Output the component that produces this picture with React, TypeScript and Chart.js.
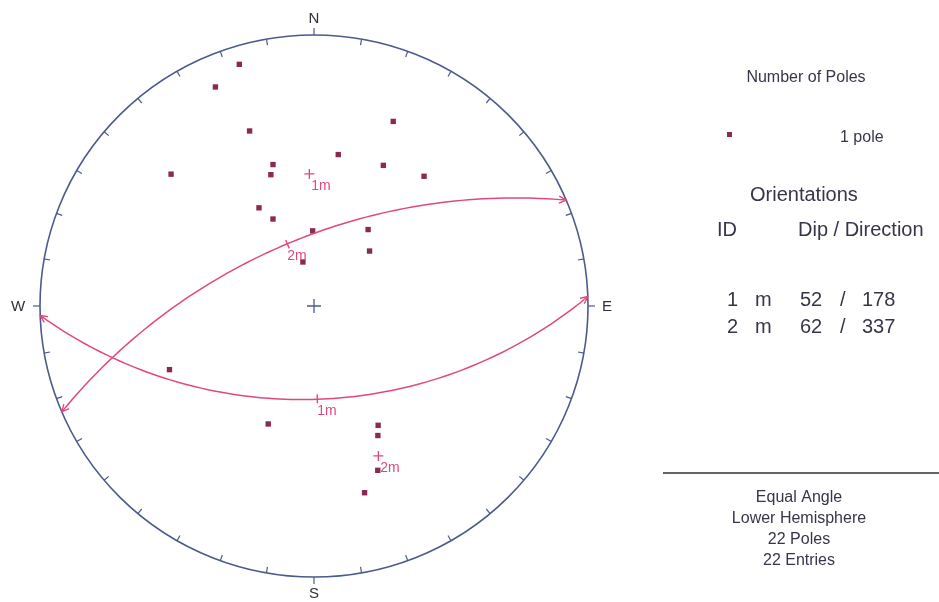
import React, { useEffect, useRef } from "react";
import { Chart, registerables } from "chart.js";
Chart.register(...registerables);

// ---- Data ----
// Poles: trend (deg) / plunge (deg), lower hemisphere
const poleTrends = [343, 336, 340, 313, 344, 342, 9, 26, 23, 40, 331, 335, 359, 35, 45, 346, 246, 201, 152, 154, 159, 165];
const polePlunges = [4, 7, 21, 19, 33, 36, 31, 30, 17, 26, 45, 51, 59, 52, 58, 71, 30, 40, 37, 34, 24, 19];

// Mean set planes: dip / dip direction
const setIds = ["1", "2"];
const setTypes = ["m", "m"];
const setLabels = ["1m", "2m"];
const setDips = [52, 62];
const setDipDirections = [178, 337];

const cardinalLabels = ["N", "E", "S", "W"];
const tickStep = 10;
const footerLines = ["Equal Angle", "Lower Hemisphere", "22 Poles", "22 Entries"];

// ---- Styles ----
const NET_COLOR = "#4c5a8c";
const PLANE_COLOR = "#e0497c";
const POLE_COLOR = "#8a2a52";
const TEXT_COLOR = "#39344a";
const FONT = "'Liberation Sans', Arial, sans-serif";

const W = 939;
const H = 602;
const CX = 314;
const CY = 306;
const RX = 274;
const RY = 271;

const rad = Math.PI / 180;

function project(trend: number, plunge: number) {
  const r = Math.tan(((90 - plunge) / 2) * rad);
  return { x: r * Math.sin(trend * rad), y: r * Math.cos(trend * rad) };
}

function greatCircle(dip: number, dipDir: number) {
  const s = (dipDir - 90) * rad;
  const a = dipDir * rad;
  const d = dip * rad;
  const pts: { x: number; y: number }[] = [];
  for (let k = 0; k <= 90; k++) {
    const t = k * 2 * rad;
    const vn = Math.cos(t) * Math.cos(s) + Math.sin(t) * Math.cos(d) * Math.cos(a);
    const ve = Math.cos(t) * Math.sin(s) + Math.sin(t) * Math.cos(d) * Math.sin(a);
    const vz = Math.sin(t) * Math.sin(d);
    const plunge = Math.asin(Math.max(-1, Math.min(1, vz))) / rad;
    const trend = Math.atan2(ve, vn) / rad;
    pts.push(project(trend, plunge));
  }
  return pts;
}

const polePoints = poleTrends.map((t, i) => project(t, polePlunges[i]));
const setPolePoints = setDips.map((d, i) => project(setDipDirections[i] + 180, 90 - d));
const setDipPoints = setDips.map((d, i) => project(setDipDirections[i], d));

const stereoPlugin = {
  id: "stereonet",
  beforeDatasetsDraw(chart: any) {
    const { ctx, scales } = chart;
    const xs = scales.x;
    const ys = scales.y;
    const cx = xs.getPixelForValue(0);
    const cy = ys.getPixelForValue(0);
    const rx = xs.getPixelForValue(1) - cx;
    const ry = cy - ys.getPixelForValue(1);
    ctx.save();
    ctx.strokeStyle = NET_COLOR;
    ctx.lineWidth = 1.6;
    ctx.beginPath();
    ctx.ellipse(cx, cy, rx, ry, 0, 0, Math.PI * 2);
    ctx.stroke();
    ctx.lineWidth = 1.2;
    for (let a = 0; a < 360; a += tickStep) {
      const s = Math.sin(a * rad);
      const c = Math.cos(a * rad);
      const card = a % 90 === 0;
      const d0 = card ? 0 : -6;
      const d1 = card ? 7 : 0;
      ctx.beginPath();
      ctx.moveTo(cx + s * (rx + d0), cy - c * (ry + d0));
      ctx.lineTo(cx + s * (rx + d1), cy - c * (ry + d1));
      ctx.stroke();
    }
    // cardinal labels
    ctx.fillStyle = "#2f2f3a";
    ctx.font = `15px ${FONT}`;
    ctx.textAlign = "center";
    ctx.textBaseline = "middle";
    const offs = [17, 19, 16, 22];
    cardinalLabels.forEach((lab, i) => {
      const a = i * 90 * rad;
      const s = Math.sin(a);
      const c = Math.cos(a);
      ctx.fillText(lab, cx + s * (rx + offs[i]), cy - c * (ry + offs[i]) + 1);
    });
    ctx.restore();
  },
  afterDatasetsDraw(chart: any) {
    const { ctx, scales } = chart;
    const xs = scales.x;
    const ys = scales.y;
    const cx = xs.getPixelForValue(0);
    const cy = ys.getPixelForValue(0);
    ctx.save();
    // arrowheads on great circles
    ctx.strokeStyle = PLANE_COLOR;
    ctx.lineWidth = 1.4;
    for (let i = 0; i < setDips.length; i++) {
      const pts = chart.getDatasetMeta(i).data;
      const ends = [
        [pts[pts.length - 1], pts[pts.length - 4]],
        [pts[0], pts[3]],
      ];
      ends.forEach(([p, q]: any) => {
        const ang = Math.atan2(p.y - q.y, p.x - q.x);
        ctx.beginPath();
        ctx.moveTo(p.x - 8 * Math.cos(ang - 0.45), p.y - 8 * Math.sin(ang - 0.45));
        ctx.lineTo(p.x, p.y);
        ctx.lineTo(p.x - 8 * Math.cos(ang + 0.45), p.y - 8 * Math.sin(ang + 0.45));
        ctx.stroke();
      });
    }
    // dip-direction ticks and labels
    ctx.fillStyle = PLANE_COLOR;
    ctx.font = `14px ${FONT}`;
    ctx.textAlign = "left";
    ctx.textBaseline = "middle";
    setDipPoints.forEach((pt, i) => {
      const px = xs.getPixelForValue(pt.x);
      const py = ys.getPixelForValue(pt.y);
      let ux = cx - px;
      let uy = cy - py;
      const n = Math.hypot(ux, uy) || 1;
      ux /= n;
      uy /= n;
      ctx.beginPath();
      ctx.moveTo(px - 4 * ux, py - 4 * uy);
      ctx.lineTo(px + 5 * ux, py + 5 * uy);
      ctx.stroke();
      ctx.fillText(setLabels[i], px + 0, py + 12);
    });
    setPolePoints.forEach((pt, i) => {
      const px = xs.getPixelForValue(pt.x);
      const py = ys.getPixelForValue(pt.y);
      ctx.fillText(setLabels[i], px + 2, py + 12);
    });

    // right panel
    ctx.fillStyle = TEXT_COLOR;
    ctx.textAlign = "center";
    ctx.font = `16px ${FONT}`;
    ctx.fillText("Number of Poles", 806, 78, 124);
    ctx.fillStyle = POLE_COLOR;
    ctx.fillRect(727, 132, 5, 5);
    ctx.fillStyle = TEXT_COLOR;
    ctx.textAlign = "left";
    ctx.fillText("1 pole", 840, 138);
    ctx.font = `20px ${FONT}`;
    ctx.fillText("Orientations", 750, 195);
    ctx.fillText("ID", 717, 230);
    ctx.fillText("Dip / Direction", 798, 230);
    const rowY = [300, 327];
    setIds.forEach((id, i) => {
      const y = rowY[i];
      ctx.textAlign = "left";
      ctx.fillText(id, 727, y);
      ctx.fillText(setTypes[i], 755, y);
      ctx.fillText(String(setDips[i]), 800, y);
      ctx.fillText("/", 840, y);
      ctx.fillText(String(setDipDirections[i]).padStart(3, "0"), 862, y);
    });
    ctx.strokeStyle = "#2f2f38";
    ctx.lineWidth = 1.6;
    ctx.beginPath();
    ctx.moveTo(663, 473);
    ctx.lineTo(939, 473);
    ctx.stroke();
    ctx.textAlign = "center";
    ctx.font = `16px ${FONT}`;
    const fy = [498, 519, 540, 561];
    footerLines.forEach((t, i) => ctx.fillText(t, 799, fy[i]));
    ctx.restore();
  },
};

export default function App() {
  const ref = useRef<HTMLCanvasElement | null>(null);
  useEffect(() => {
    if (!ref.current) return;
    const datasets: any[] = setDips.map((d, i) => ({
      label: `Plane ${setLabels[i]}`,
      data: greatCircle(d, setDipDirections[i]),
      showLine: true,
      borderColor: PLANE_COLOR,
      borderWidth: 1.5,
      pointRadius: 0,
      tension: 0,
      fill: false,
    }));
    datasets.push({
      label: "Poles",
      data: polePoints,
      pointStyle: "rect",
      pointRadius: 3.8,
      backgroundColor: POLE_COLOR,
      borderColor: POLE_COLOR,
      borderWidth: 0,
      showLine: false,
    });
    datasets.push({
      label: "Set poles",
      data: setPolePoints,
      pointStyle: "cross",
      pointRadius: 5,
      borderColor: PLANE_COLOR,
      borderWidth: 1.3,
      showLine: false,
    });
    datasets.push({
      label: "Centre",
      data: [{ x: 0, y: 0 }],
      pointStyle: "cross",
      pointRadius: 7,
      borderColor: NET_COLOR,
      borderWidth: 1.3,
      showLine: false,
    });
    const chart = new Chart(ref.current, {
      type: "scatter",
      data: { datasets },
      plugins: [stereoPlugin],
      options: {
        animation: false,
        responsive: false,
        maintainAspectRatio: false,
        layout: { padding: 0, autoPadding: false },
        plugins: { legend: { display: false }, tooltip: { enabled: false } },
        scales: {
          x: { type: "linear", display: false, min: -CX / RX, max: (W - CX) / RX },
          y: { type: "linear", display: false, min: -(H - CY) / RY, max: CY / RY },
        },
      },
    } as any);
    return () => chart.destroy();
  }, []);
  return (
    <div style={{ position: "fixed", left: 0, top: 0, width: W, height: H, background: "#fff" }}>
      <canvas ref={ref} width={W} height={H} style={{ width: W, height: H, display: "block" }} />
    </div>
  );
}
